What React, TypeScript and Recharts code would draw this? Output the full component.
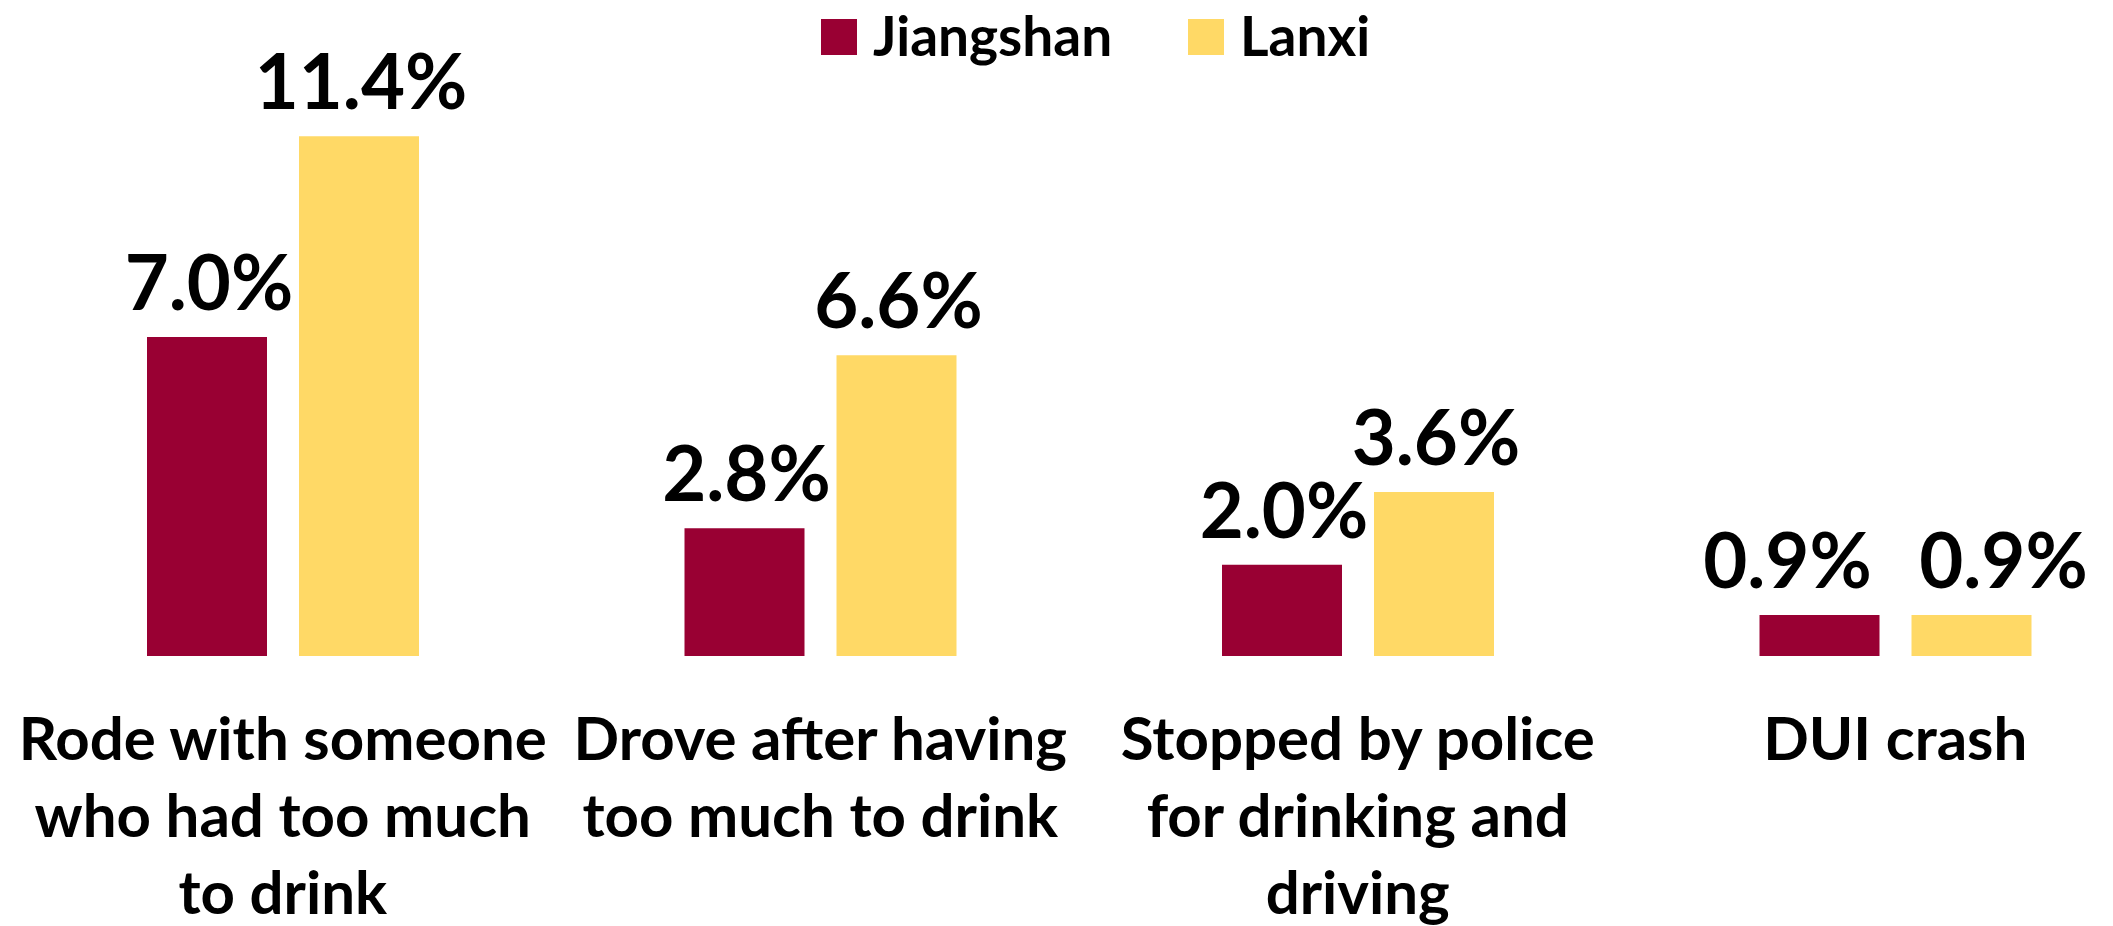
import React from "react";
import { BarChart, Bar, XAxis, YAxis, Legend, LabelList } from "recharts";

const categories = [
  "Rode with someone who had too much to drink",
  "Drove after having too much to drink",
  "Stopped by police for drinking and driving",
  "DUI crash",
];
const categoryLines = [
  ["Rode with someone", "who had too much", "to drink"],
  ["Drove after having", "too much to drink"],
  ["Stopped by police", "for drinking and", "driving"],
  ["DUI crash"],
];
const seriesNames = ["Jiangshan", "Lanxi"];
const jiangshanValues = [7.0, 2.8, 2.0, 0.9];
const lanxiValues = [11.4, 6.6, 3.6, 0.9];
const seriesColors = ["#990033", "#FFD966"];

const data = categories.map((c, i) => ({
  category: c,
  Jiangshan: jiangshanValues[i],
  Lanxi: lanxiValues[i],
}));

const FONT = "Lato, 'Open Sans', sans-serif";

const CategoryTick = (props: any) => {
  const { x, y, index } = props;
  const lines = categoryLines[index] || [];
  return (
    <g>
      {lines.map((l, i) => (
        <text
          key={i}
          x={x}
          y={y + 104 + i * 77}
          textAnchor="middle"
          fontFamily={FONT}
          fontWeight={700}
          fontSize={60}
          fill="#000"
        >
          {l}
        </text>
      ))}
    </g>
  );
};

// nudge apart the two labels of the last group, where they would collide
const makeValueLabel = (side: number) => (props: any) => {
  const { x, y, width, value, index } = props;
  const nudge = index === categories.length - 1 ? side * 32 : 2;
  return (
    <text
      x={x + width / 2 + nudge}
      y={y - 27}
      textAnchor="middle"
      fontFamily={FONT}
      fontWeight={700}
      fontSize={76}
      fill="#000"
    >
      {Number(value).toFixed(1)}%
    </text>
  );
};
const JiangshanLabel = makeValueLabel(-1);
const LanxiLabel = makeValueLabel(1);

// legend item start offsets (px) within the legend box
const legendItemX = [0, 367];

const LegendContent = () => (
  <svg width={620} height={80} style={{ display: "block", overflow: "visible" }}>
    {seriesNames.map((n, i) => (
      <g key={n}>
        <rect x={legendItemX[i]} y={19} width={36} height={36} fill={seriesColors[i]} />
        <text
          x={legendItemX[i] + 52}
          y={56}
          fontFamily={FONT}
          fontWeight={700}
          fontSize={55}
          fill="#000"
        >
          {n}
        </text>
      </g>
    ))}
  </svg>
);

export default function App() {
  return (
    <div style={{ width: 2097, height: 918, position: "relative" }}>
      <BarChart
        width={2097}
        height={918}
        data={data}
        margin={{ top: 101, right: 0, left: 6, bottom: 0 }}
        barSize={120}
        barGap={32}
      >
        <XAxis
          dataKey="category"
          axisLine={false}
          tickLine={false}
          tickSize={0}
          tickMargin={0}
          height={270}
          interval={0}
          padding={{ left: 0, right: -59 }}
          tick={<CategoryTick />}
        />
        <YAxis hide domain={[0, 12]} />
        <Legend
          layout="horizontal"
          verticalAlign="middle"
          align="center"
          content={<LegendContent />}
          wrapperStyle={{ position: "absolute", top: -8, left: 813, width: 620, height: 80 }}
        />
        <Bar dataKey="Jiangshan" fill={seriesColors[0]} isAnimationActive={false}>
          <LabelList dataKey="Jiangshan" content={<JiangshanLabel />} />
        </Bar>
        <Bar dataKey="Lanxi" fill={seriesColors[1]} isAnimationActive={false}>
          <LabelList dataKey="Lanxi" content={<LanxiLabel />} />
        </Bar>
      </BarChart>
    </div>
  );
}
